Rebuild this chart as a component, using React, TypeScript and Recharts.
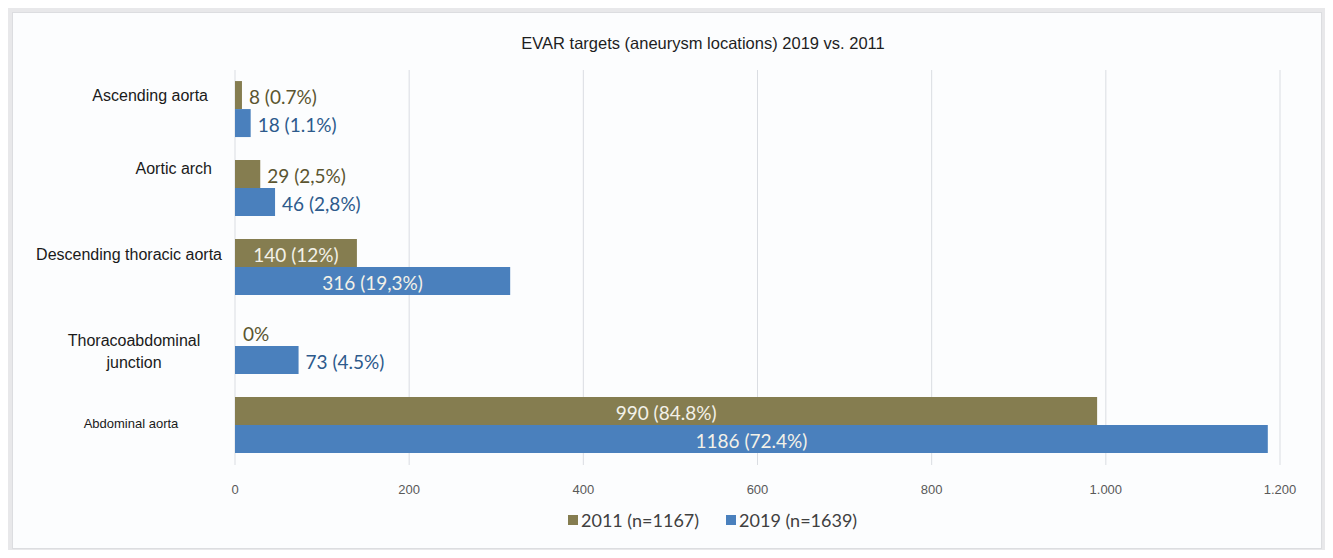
import { BarChart, Bar, XAxis, YAxis, CartesianGrid, LabelList } from "recharts";

const categories = [
  "Ascending aorta",
  "Aortic arch",
  "Descending thoracic aorta",
  "Thoracoabdominal junction",
  "Abdominal aorta",
];
const values2011 = [8, 29, 140, 0, 990];
const values2019 = [18, 46, 316, 73, 1186];
const labels2011 = ["8 (0.7%)", "29 (2,5%)", "140 (12%)", "0%", "990 (84.8%)"];
const labels2019 = ["18 (1.1%)", "46 (2,8%)", "316 (19,3%)", "73 (4.5%)", "1186 (72.4%)"];
const xTicks = [0, 200, 400, 600, 800, 1000, 1200];

const OLIVE = "#857d50";
const BLUE = "#4a80bd";
const OLIVE_TEXT = "#5b5530";
const BLUE_TEXT = "#2d5a8c";

const data = categories.map((name, i) => ({
  name,
  y2011: values2011[i],
  y2019: values2019[i],
  l2011: labels2011[i],
  l2019: labels2019[i],
}));

// where each category label sits relative to its band (the original has hand-placed text boxes)
const tickPlacement: Record<string, { x: number; dy: number; anchor: "end" | "middle"; size: number }> = {
  "Ascending aorta": { x: 208, dy: -15, anchor: "end", size: 16 },
  "Aortic arch": { x: 212, dy: -21, anchor: "end", size: 16 },
  "Descending thoracic aorta": { x: 222, dy: -14, anchor: "end", size: 16 },
  "Thoracoabdominal junction": { x: 134, dy: 4, anchor: "middle", size: 16 },
  "Abdominal aorta": { x: 131, dy: -3, anchor: "middle", size: 13 },
};

const CategoryTick = (props: any) => {
  const { y, payload } = props;
  const p = tickPlacement[payload.value];
  const lines = payload.value === "Thoracoabdominal junction" ? ["Thoracoabdominal", "junction"] : [payload.value];
  return (
    <text
      x={p.x}
      y={y + p.dy}
      textAnchor={p.anchor}
      fontSize={p.size}
      fill="#1a1a1a"
      fontFamily="'Liberation Sans', Arial, sans-serif"
      dominantBaseline="central"
    >
      {lines.map((l, i) => (
        <tspan key={i} x={p.x} dy={i === 0 ? (lines.length > 1 ? -11 : 0) : 22}>
          {l}
        </tspan>
      ))}
    </text>
  );
};

const labelFont = { fontSize: 19, fontFamily: "Lato, 'Open Sans', sans-serif" };

const makeValueLabel = (outsideColor: string, withZeroPartner: boolean) => (props: any) => {
  const { x, y, width, height, value, index } = props;
  const inside = width > 110;
  // recharts skips labels on zero-length bars, so the 2011 "0%" is drawn from the 2019 bar beside it
  const zeroPartner = withZeroPartner && values2011[index] === 0;
  return (
    <g>
      <text
        x={inside ? x + width / 2 : x + width + 7}
        y={y + height / 2 + 1}
        textAnchor={inside ? "middle" : "start"}
        dominantBaseline="central"
        {...labelFont}
        fill={inside ? "#f3f1e8" : outsideColor}
      >
        {value}
      </text>
      {zeroPartner && (
        <text x={x + 8} y={y - height / 2 + 1} dominantBaseline="central" {...labelFont} fill={OLIVE_TEXT}>
          {labels2011[index]}
        </text>
      )}
    </g>
  );
};

const formatTick = (v: number) => v.toString().replace(/\B(?=(\d{3})+(?!\d))/g, ".");

export default function App() {
  return (
    <div style={{ position: "relative", width: 1333, height: 558, margin: -8, background: "#e8e8ea" }}>
      <div
        style={{
          position: "absolute",
          left: 12,
          top: 12,
          width: 1308,
          height: 535,
          background: "#fcfdfe",
          border: "1px solid #dcdde0",
        }}
      />
      <div
        style={{
          position: "absolute",
          left: 0,
          width: 1406,
          top: 34,
          textAlign: "center",
          fontFamily: "'Liberation Sans', Arial, sans-serif",
          fontSize: 16.5,
          color: "#1e1e1e",
        }}
      >
        EVAR targets (aneurysm locations) 2019 vs. 2011
      </div>
      <div style={{ position: "absolute", left: 0, top: 0 }}>
        <BarChart
          width={1333}
          height={558}
          data={data}
          layout="vertical"
          margin={{ top: 70, right: 53, bottom: 63, left: 0 }}
          barCategoryGap="14%"
          barGap={0}
        >
          <CartesianGrid horizontal={false} stroke="#dadde2" />
          <XAxis
            type="number"
            domain={[0, 1200]}
            ticks={xTicks}
            tickFormatter={formatTick}
            axisLine={false}
            tickLine={false}
            tickMargin={14}
            height={30}
            tick={{ fill: "#595959", fontSize: 13, fontFamily: "'Liberation Sans', Arial, sans-serif" }}
          />
          <YAxis
            type="category"
            dataKey="name"
            width={235}
            axisLine={false}
            tickLine={false}
            tick={<CategoryTick />}
          />
          <Bar dataKey="y2011" fill={OLIVE} isAnimationActive={false}>
            <LabelList dataKey="l2011" content={makeValueLabel(OLIVE_TEXT, false)} />
          </Bar>
          <Bar dataKey="y2019" fill={BLUE} isAnimationActive={false}>
            <LabelList dataKey="l2019" content={makeValueLabel(BLUE_TEXT, true)} />
          </Bar>
        </BarChart>
      </div>
      <div
        style={{
          position: "absolute",
          left: 568,
          top: 509,
          display: "flex",
          gap: 27,
          fontFamily: "Lato, 'Open Sans', sans-serif",
          fontSize: 18,
          color: "#404040",
        }}
      >
        {[
          { c: OLIVE, t: "2011 (n=1167)" },
          { c: BLUE, t: "2019 (n=1639)" },
        ].map((it) => (
          <div key={it.t} style={{ display: "flex", alignItems: "center" }}>
            <span style={{ width: 10, height: 10, background: it.c, marginRight: 3, display: "inline-block" }} />
            {it.t}
          </div>
        ))}
      </div>
    </div>
  );
}
